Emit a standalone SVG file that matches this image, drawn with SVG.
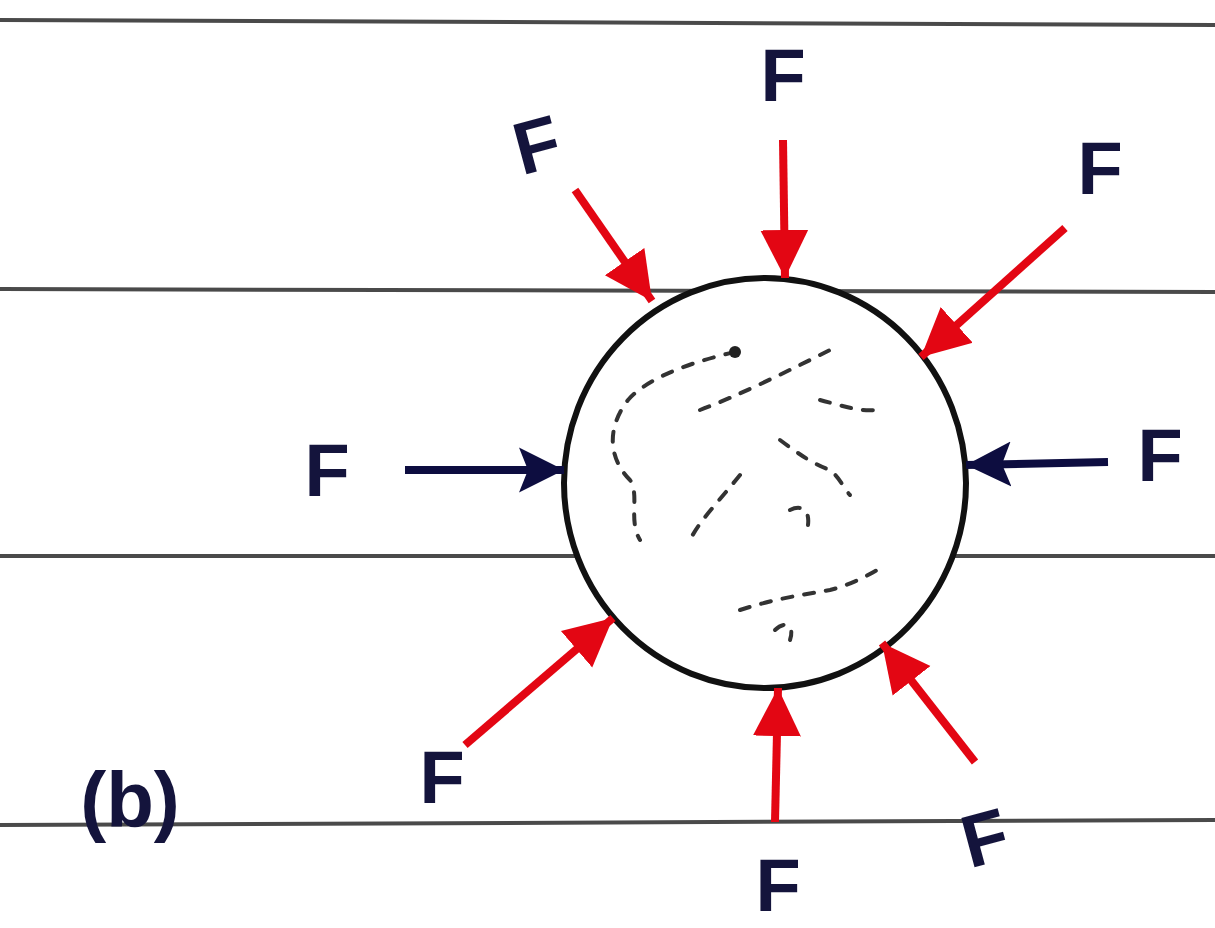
<svg xmlns="http://www.w3.org/2000/svg" width="1215" height="928" viewBox="0 0 1215 928">
<style>
.rule{stroke:#4a4a4a;stroke-width:4;fill:none}
.red{stroke:#e30613;stroke-width:8;fill:none;marker-end:url(#ar)}
.blue{stroke:#0d0d40;stroke-width:8;fill:none;marker-end:url(#ab)}
.lbl{font-family:"Liberation Sans",Arial,sans-serif;font-weight:bold;font-size:74px;fill:#14143c;text-anchor:middle;dominant-baseline:central}
.scr{stroke:#333;stroke-width:4;fill:none;stroke-dasharray:10 12;stroke-linecap:round}
</style>
<defs>
<marker id="ar" viewBox="0 0 10 10" refX="10" refY="5" markerUnits="userSpaceOnUse" markerWidth="48" markerHeight="62" orient="auto"><path d="M0,0 L10,5 L0,10 z" fill="#e30613"/></marker>
<marker id="ab" viewBox="0 0 10 10" refX="10" refY="5" markerUnits="userSpaceOnUse" markerWidth="45" markerHeight="72" orient="auto"><path d="M0,0 L10,5 L0,10 L2,5 z" fill="#0d0d40"/></marker>
</defs>
<rect width="1215" height="928" fill="#fff"/>
<g id="ruling">
<line class="rule" x1="0" y1="20" x2="1215" y2="25"/>
<line class="rule" x1="0" y1="289" x2="1215" y2="292"/>
<line class="rule" x1="0" y1="556" x2="1215" y2="556"/>
<line class="rule" x1="0" y1="825" x2="1215" y2="820"/>
</g>
<g id="sphere">
<ellipse cx="765" cy="483" rx="201" ry="205" fill="#fff" stroke="#111" stroke-width="6"/>
<path class="scr" d="M735,352 C700,360 650,375 628,400 C605,430 610,460 630,480 C640,495 628,520 640,540"/>
<path class="scr" d="M700,410 C740,395 790,370 830,350"/>
<path class="scr" d="M820,400 C840,405 860,412 875,410"/>
<path class="scr" d="M780,440 C800,455 815,465 830,470 C840,478 845,490 850,495"/>
<path class="scr" d="M740,475 C720,500 700,520 690,540"/>
<path class="scr" d="M790,510 C800,505 810,508 808,525"/>
<path class="scr" d="M740,610 C770,600 800,595 830,590 C850,585 870,575 885,565"/>
<path class="scr" d="M775,630 C785,620 795,625 790,640"/>
<circle cx="735" cy="352" r="6" fill="#222"/>
</g>
<g id="connectors">
<line class="red" x1="783" y1="140" x2="785" y2="278"/>
<line class="red" x1="575" y1="190" x2="652" y2="301"/>
<line class="red" x1="1065" y1="228" x2="921" y2="357"/>
<line class="blue" x1="405" y1="470" x2="564" y2="470"/>
<line class="blue" x1="1108" y1="462" x2="966" y2="465"/>
<line class="red" x1="465" y1="745" x2="613" y2="618"/>
<line class="red" x1="775" y1="822" x2="778" y2="688"/>
<line class="red" x1="975" y1="762" x2="882" y2="643"/>
</g>
<g id="label-top"><text class="lbl" x="783" y="75">F</text></g>
<g id="label-top-left"><text class="lbl" x="537" y="145" transform="rotate(-15 537 145)">F</text></g>
<g id="label-top-right"><text class="lbl" x="1100" y="168">F</text></g>
<g id="label-left"><text class="lbl" x="327" y="470">F</text></g>
<g id="label-right"><text class="lbl" x="1160" y="455">F</text></g>
<g id="label-bottom-left"><text class="lbl" x="442" y="777">F</text></g>
<g id="label-bottom"><text class="lbl" x="778" y="885">F</text></g>
<g id="label-bottom-right"><text class="lbl" x="985" y="838" transform="rotate(-15 985 838)">F</text></g>
<g id="label-b"><text class="lbl" x="130" y="800" style="font-size:78px">(b)</text></g>
</svg>
